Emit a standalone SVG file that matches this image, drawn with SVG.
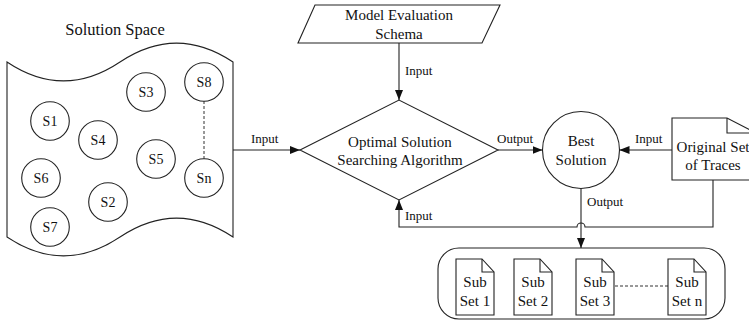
<svg xmlns="http://www.w3.org/2000/svg" width="749" height="324" viewBox="0 0 749 324">
<defs>
<marker id="arr" markerWidth="10" markerHeight="8" refX="10" refY="4" orient="auto" markerUnits="userSpaceOnUse">
<path d="M0,0 L10,4 L0,8 Z" fill="#111"/>
</marker>
<style>
.sh{fill:#fff;stroke:#222;stroke-width:1.1}
.ln{fill:none;stroke:#222;stroke-width:1.1}
.dash{fill:none;stroke:#333;stroke-width:1;stroke-dasharray:3,2}
text{font-family:'Liberation Serif','Tinos','Times New Roman','DejaVu Serif',serif;fill:#111;text-anchor:middle}
.t15{font-size:15px}
.t14{font-size:14px}
.lab{font-size:13px;text-anchor:start}
</style>
</defs>
<rect width="749" height="324" fill="#fff"/>

<g id="solution-space">
<text x="115" y="35" style="font-size:16.5px">Solution Space</text>
<path class="sh" d="M7,62 Q63.5,99.8 120,62 Q176.5,24.2 233,62 L233,237 Q176.5,199.2 120,237 Q63.5,274.8 7,237 Z"/>
<line class="dash" x1="204" y1="101" x2="204" y2="159"/>
<g id="s1"><circle class="sh" cx="50" cy="121" r="19.3"/><text class="t14" x="50" y="126">S1</text></g>
<g id="s4"><circle class="sh" cx="98" cy="140" r="19.3"/><text class="t14" x="98" y="145">S4</text></g>
<g id="s3"><circle class="sh" cx="146" cy="92" r="19.3"/><text class="t14" x="146" y="97">S3</text></g>
<g id="s8"><circle class="sh" cx="204" cy="82" r="19.3"/><text class="t14" x="204" y="87">S8</text></g>
<g id="s5"><circle class="sh" cx="156" cy="159" r="19.3"/><text class="t14" x="156" y="164">S5</text></g>
<g id="sn"><circle class="sh" cx="204" cy="178" r="19.3"/><text class="t14" x="204" y="183">Sn</text></g>
<g id="s6"><circle class="sh" cx="41" cy="178" r="19.3"/><text class="t14" x="41" y="183">S6</text></g>
<g id="s2"><circle class="sh" cx="108" cy="202" r="19.3"/><text class="t14" x="108" y="207">S2</text></g>
<g id="s7"><circle class="sh" cx="50" cy="227" r="19.3"/><text class="t14" x="50" y="232">S7</text></g>
</g>

<g id="model-evaluation">
<path class="sh" d="M315,5 L500,5 L482,43 L298,43 Z"/>
<text class="t15" x="399" y="20">Model Evaluation</text>
<text class="t15" x="399" y="39">Schema</text>
</g>

<g id="algorithm">
<path class="sh" d="M300,150 L399,100 L498,150 L399,200 Z"/>
<text class="t15" x="400" y="147">Optimal Solution</text>
<text class="t15" x="400" y="165">Searching Algorithm</text>
</g>

<g id="best-solution">
<circle class="sh" cx="581" cy="150" r="38.5"/>
<text class="t15" x="581" y="146">Best</text>
<text class="t15" x="581" y="165">Solution</text>
</g>

<g id="original-set">
<path class="sh" d="M672,118 L727,118 L756,133 L756,180 L672,180 Z"/>
<path class="ln" d="M727,118 L727,133 L756,133"/>
<text class="t15" x="713" y="152">Original Set</text>
<text class="t15" x="713" y="170">of Traces</text>
</g>

<g id="subsets">
<rect class="sh" x="438" y="248" width="287" height="71" rx="21" ry="21"/>
<line class="dash" x1="615" y1="286" x2="668" y2="286"/>
<g id="subset1">
<path class="sh" d="M456,259 L482,259 L494,272 L494,315 L456,315 Z"/>
<path class="ln" d="M482,259 L482,272 L494,272"/>
<text class="t15" x="475" y="287">Sub</text><text class="t15" x="475" y="306">Set 1</text>
</g>
<g id="subset2">
<path class="sh" d="M514,259 L540,259 L552,272 L552,315 L514,315 Z"/>
<path class="ln" d="M540,259 L540,272 L552,272"/>
<text class="t15" x="533" y="287">Sub</text><text class="t15" x="533" y="306">Set 2</text>
</g>
<g id="subset3">
<path class="sh" d="M576,259 L602,259 L614,272 L614,315 L576,315 Z"/>
<path class="ln" d="M602,259 L602,272 L614,272"/>
<text class="t15" x="595" y="287">Sub</text><text class="t15" x="595" y="306">Set 3</text>
</g>
<g id="subsetn">
<path class="sh" d="M668,259 L694,259 L706,272 L706,315 L668,315 Z"/>
<path class="ln" d="M694,259 L694,272 L706,272"/>
<text class="t15" x="687" y="287">Sub</text><text class="t15" x="687" y="306">Set n</text>
</g>
</g>

<g id="connectors">
<line class="ln" x1="233" y1="150" x2="300" y2="150" marker-end="url(#arr)"/>
<text class="lab" x="251" y="143">Input</text>
<line class="ln" x1="399" y1="43" x2="399" y2="100" marker-end="url(#arr)"/>
<text class="lab" x="405" y="75">Input</text>
<line class="ln" x1="498" y1="150" x2="542.5" y2="150" marker-end="url(#arr)"/>
<text class="lab" x="497" y="143">Output</text>
<line class="ln" x1="672" y1="150" x2="619.5" y2="150" marker-end="url(#arr)"/>
<text class="lab" x="635" y="143">Input</text>
<line class="ln" x1="581" y1="188.5" x2="581" y2="248" marker-end="url(#arr)"/>
<text class="lab" x="587" y="206">Output</text>
<path class="ln" d="M713,180 V227 H585 A4,4 0 0 0 577,227 H399 V200" marker-end="url(#arr)"/>
<text class="lab" x="405" y="220">Input</text>
</g>
</svg>
